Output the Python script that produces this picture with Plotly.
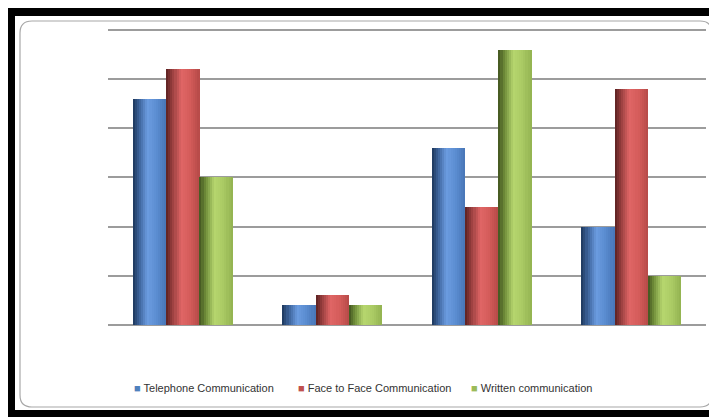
import plotly.graph_objects as go

categories = ["Group 1", "Group 2", "Group 3", "Group 4"]
series_names = ["Telephone Communication", "Face to Face Communication", "Written communication"]
telephone = [46, 4, 36, 20]
face_to_face = [52, 6, 24, 48]
written = [30, 4, 56, 10]
series_values = [telephone, face_to_face, written]
y_ticks = [0, 10, 20, 30, 40, 50, 60]

base_colors = ["#4f81bd", "#c0504d", "#9bbb59"]
gradients = [
    [(0.0, (0x1c, 0x36, 0x5a)), (0.18, (0x3a, 0x60, 0x96)), (0.45, (0x6b, 0x9c, 0xe0)),
     (0.72, (0x5a, 0x8c, 0xd0)), (1.0, (0x48, 0x76, 0xb6))],
    [(0.0, (0x5a, 0x20, 0x20)), (0.18, (0x94, 0x3c, 0x3c)), (0.45, (0xe0, 0x66, 0x66)),
     (0.72, (0xd4, 0x5c, 0x5a)), (1.0, (0xb6, 0x4a, 0x48))],
    [(0.0, (0x40, 0x52, 0x1e)), (0.18, (0x70, 0x8e, 0x3a)), (0.45, (0xb6, 0xd6, 0x6e)),
     (0.72, (0xaa, 0xca, 0x64)), (1.0, (0x92, 0xb2, 0x50))],
]


def grad_color(stops, t):
    for (t0, c0), (t1, c1) in zip(stops, stops[1:]):
        if t0 <= t <= t1:
            f = (t - t0) / (t1 - t0) if t1 > t0 else 0
            c = [round(a + (b - a) * f) for a, b in zip(c0, c1)]
            return "rgb(%d,%d,%d)" % tuple(c)
    return "rgb(%d,%d,%d)" % stops[-1][1]


x_idx = list(range(len(categories)))
bar_w = 0.2228
group_start = -1.5 * bar_w
N_STRIPS = 16
strip_w = bar_w / N_STRIPS

fig = go.Figure()
for s, vals in enumerate(series_values):
    for k in range(N_STRIPS):
        t = (k + 0.5) / N_STRIPS
        fig.add_trace(go.Bar(
            x=x_idx, y=vals,
            width=strip_w * 1.08,
            offset=group_start + s * bar_w + k * strip_w,
            marker=dict(color=grad_color(gradients[s], t), line=dict(width=0)),
            showlegend=False, hoverinfo="skip",
        ))

# page is offset by 8px in the browser; figure coords = page coords - 8
W, H = 709, 409
L, R, T, B = 100, 11, 17, 92
pw, ph = W - L - R, H - T - B


def px(x):
    return (x - L) / pw


def py(y):
    return (H - B - y) / ph


legend_names = ["legend", "legend2", "legend3"]
legend_left = [86, 250, 423]
legend_font = dict(family="Liberation Sans, Arial, sans-serif", size=11, color="#333333")
for s, name in enumerate(series_names):
    fig.add_trace(go.Scatter(
        x=[None], y=[None], mode="markers",
        name=f'<span style="color:{base_colors[s]}">■</span> {name}',
        legend=legend_names[s],
        marker=dict(symbol="square", size=1, color="rgba(0,0,0,0)"),
    ))

shapes = []
for (x0, y0, x1, y1) in [(0, 0, 7, 409), (0, 0, 709, 8), (0, 402, 709, 409)]:
    shapes.append(dict(type="rect", xref="paper", yref="paper",
                       x0=px(x0), x1=px(x1), y0=py(y0), y1=py(y1),
                       fillcolor="black", line=dict(width=0), layer="above"))
rx0, rx1, ry0, ry1 = px(12), px(704), py(13), py(399)
r = 12
drx, dry = r / pw, r / ph
path = (f"M {rx0+drx},{ry0} L {rx1-drx},{ry0} Q {rx1},{ry0} {rx1},{ry0-dry} "
        f"L {rx1},{ry1+dry} Q {rx1},{ry1} {rx1-drx},{ry1} "
        f"L {rx0+drx},{ry1} Q {rx0},{ry1} {rx0},{ry1+dry} "
        f"L {rx0},{ry0-dry} Q {rx0},{ry0} {rx0+drx},{ry0} Z")
shapes.append(dict(type="path", xref="paper", yref="paper", path=path,
                   line=dict(color="#a8a8a8", width=1.2), layer="below"))

legend_common = dict(orientation="h", xanchor="left", y=py(380), yanchor="middle",
                     font=legend_font, itemwidth=30, bgcolor="rgba(0,0,0,0)")

fig.update_layout(
    width=W, height=H,
    margin=dict(l=L, r=R, t=T, b=B, pad=0),
    paper_bgcolor="white", plot_bgcolor="white",
    barmode="overlay",
    bargap=0,
    shapes=shapes,
    xaxis=dict(range=[-0.5, 3.5], showgrid=False, showticklabels=False, ticks="",
               zeroline=False, showline=False, fixedrange=True),
    yaxis=dict(range=[0, 61], tickmode="array", tickvals=y_ticks, showgrid=True,
               gridcolor="#9c9c9c", gridwidth=1.8,
               showticklabels=False, ticks="", zeroline=True, zerolinecolor="#9c9c9c",
               zerolinewidth=1.8, showline=False, fixedrange=True),
    legend=dict(x=px(legend_left[0]), **legend_common),
    legend2=dict(x=px(legend_left[1]), **legend_common),
    legend3=dict(x=px(legend_left[2]), **legend_common),
    font=dict(family="Liberation Sans, Arial, sans-serif"),
)

fig.write_html("out.html")
